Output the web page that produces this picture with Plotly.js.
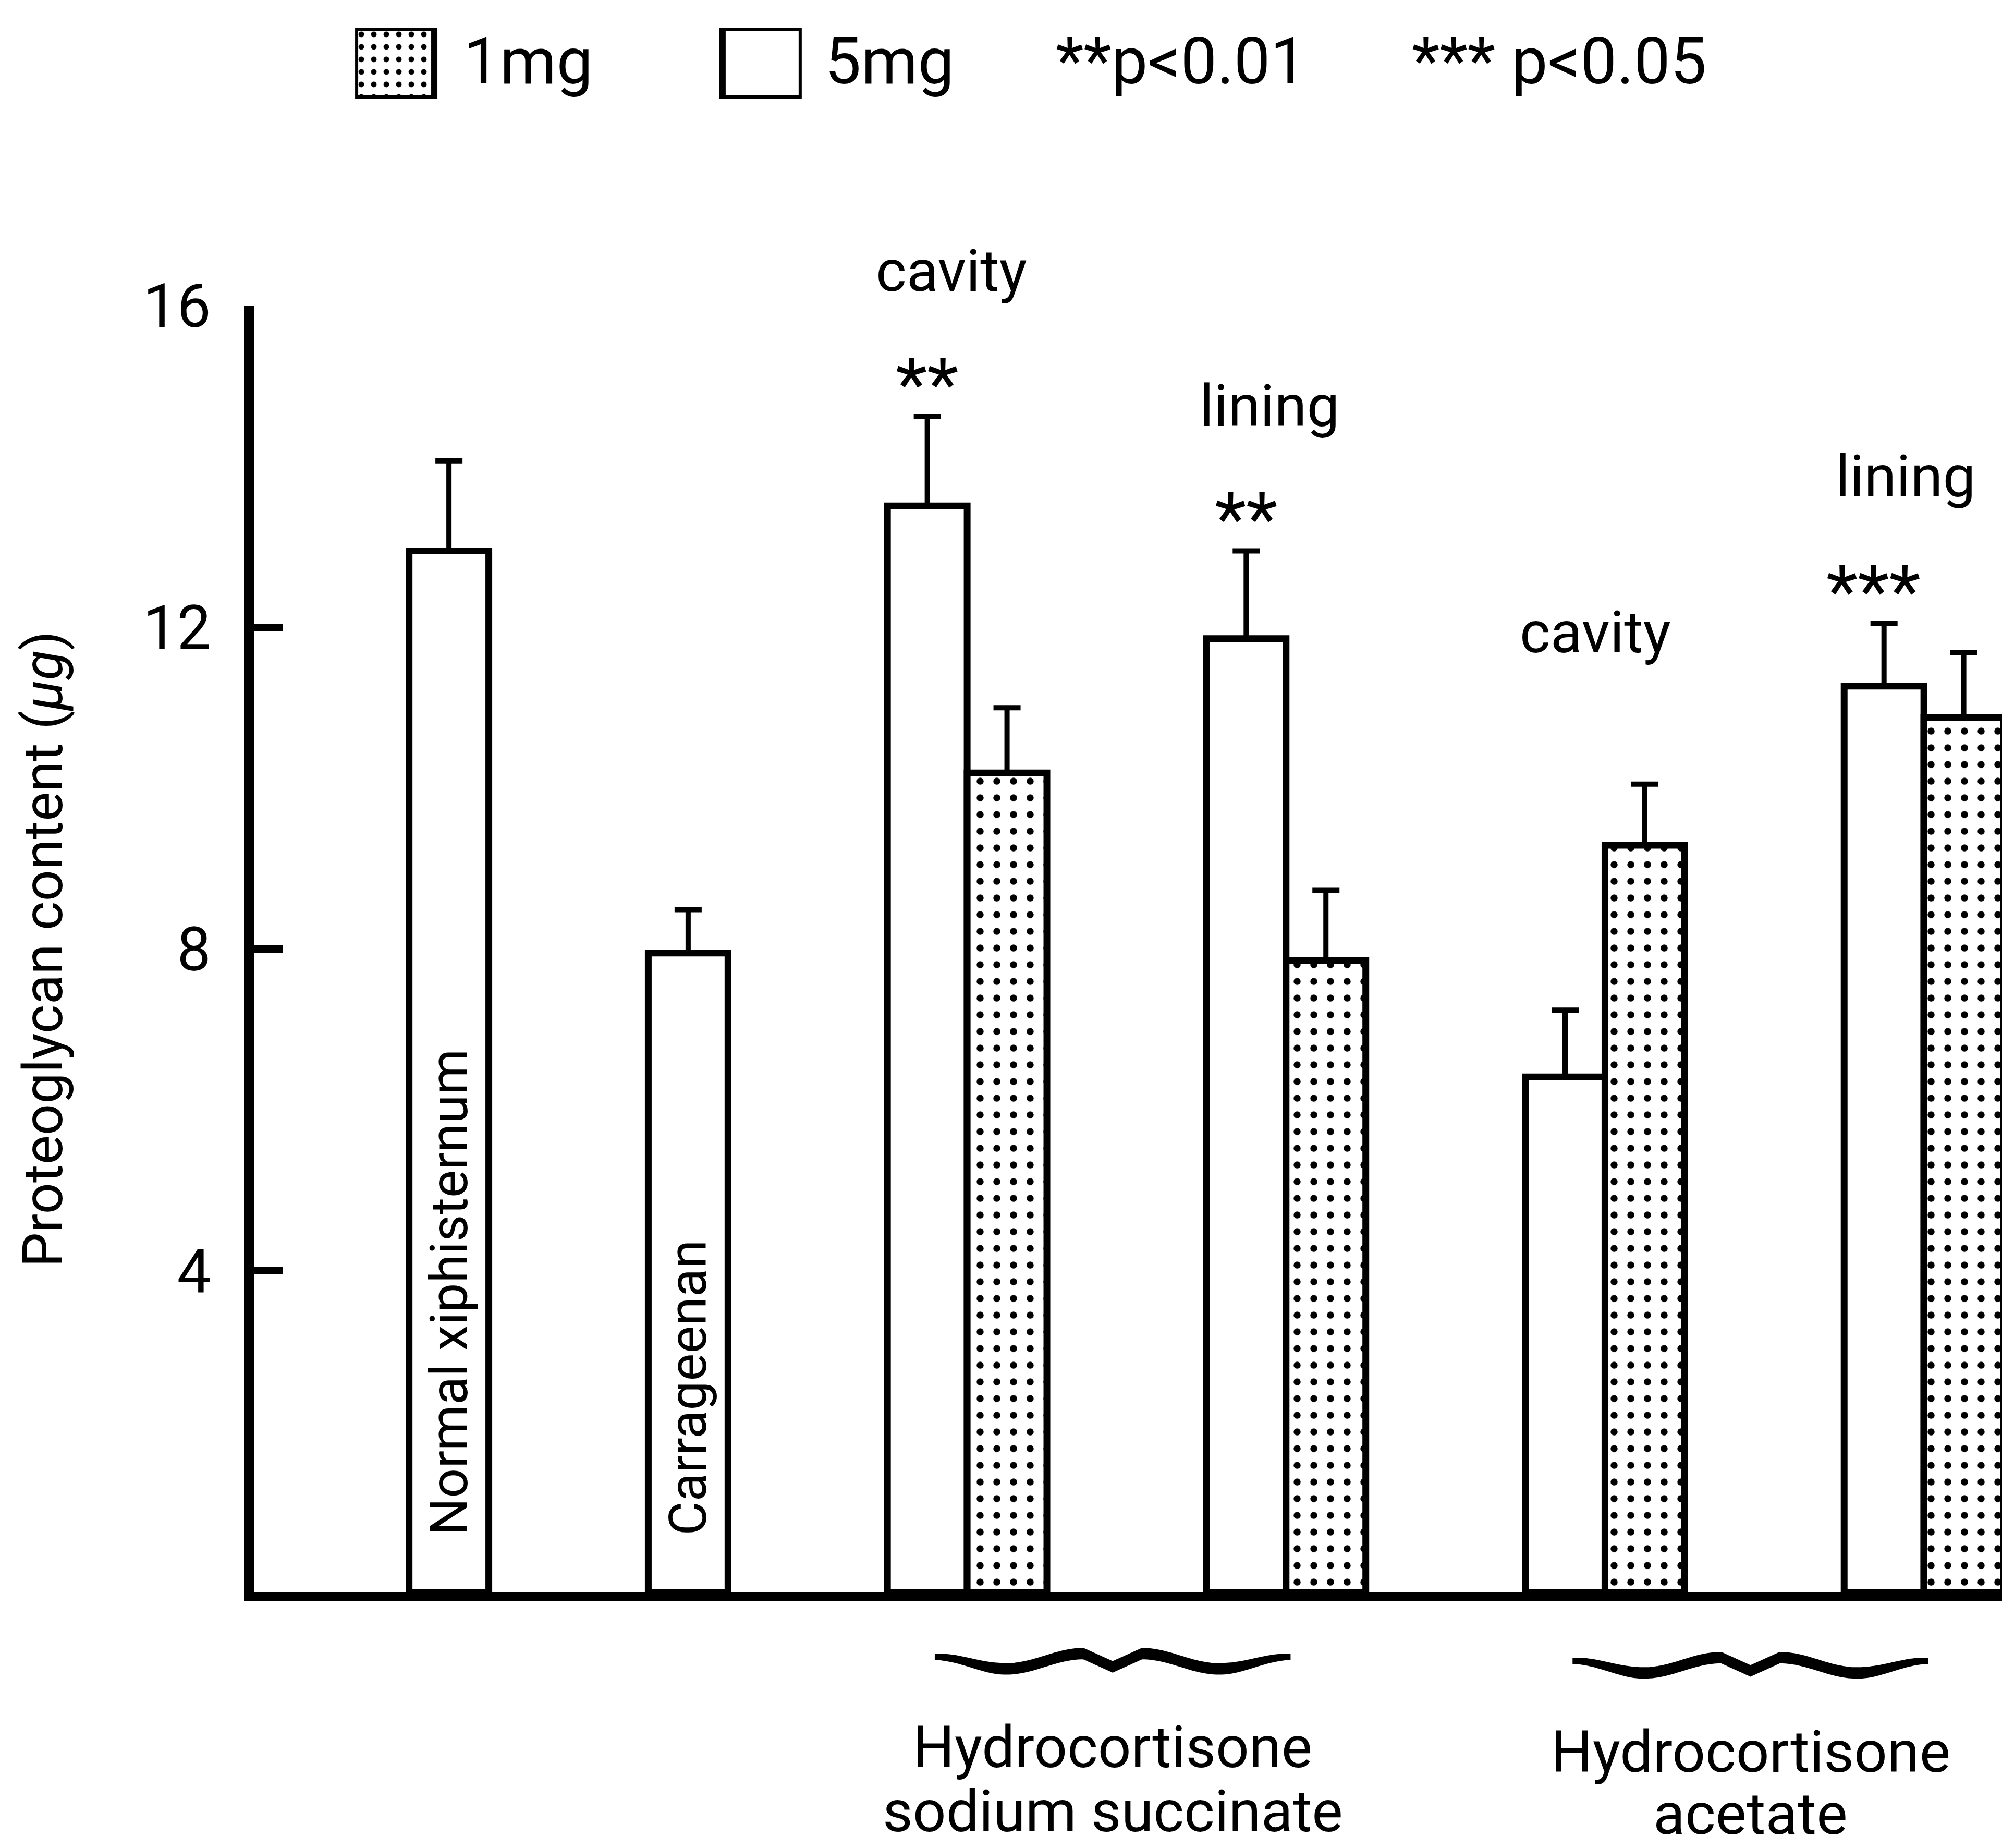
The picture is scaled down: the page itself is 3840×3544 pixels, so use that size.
<!DOCTYPE html>
<html>
<head>
<meta charset="utf-8">
<script src="https://cdn.plot.ly/plotly-3.0.1.min.js"></script>
<style>
  html, body { margin: 0; padding: 0; background: #ffffff; }
  #chart { width: 3840px; height: 3544px; }
</style>
</head>
<body>
<div id="chart"></div>
<script>
// ---- data ---------------------------------------------------------------
// bar slots along the x axis (one unit = one bar width)
const slots5mg = [2.5, 5.5, 8.5, 12.5, 16.5, 20.5];
const values5mg = [12.95, 7.95, 13.51, 11.86, 6.41, 11.27];
const errors5mg = [1.12, 0.54, 1.11, 1.09, 0.83, 0.78];
const signif5mg = ['', '', '**', '**', '', '***'];

const slots1mg = [9.5, 13.5, 17.5, 21.5];
const values1mg = [10.19, 7.86, 9.29, 10.88];
const errors1mg = [0.81, 0.87, 0.76, 0.81];

// labels written inside the two control bars
const controlLabels = ['Normal xiphisternum', 'Carrageenan'];
const controlSlots = [2.5, 5.5];

// site labels above each treated pair
const siteLabels = ['cavity', 'lining', 'cavity', 'lining'];
const siteLabelX = [8.80, 12.79, 16.88, 20.77];
const siteLabelY = [16.43, 14.75, 11.94, 13.88];

// treatment groups (first and last slot of each group)
const groupNames = [['Hydrocortisone', 'sodium succinate'], ['Hydrocortisone', 'acetate']];
const groupFirstSlot = [8.5, 16.5];
const groupLastSlot = [13.5, 21.5];

const yTicks = [4, 8, 12, 16];
const legendLabels = ['1mg', '5mg', '**p<0.01', '*** p<0.05'];

// ---- axes geometry ------------------------------------------------------
const FIG_W = 3840, FIG_H = 3544;
const MARGIN = { l: 488, r: 0, t: 30, b: 490, pad: 0 };
const PAPER_H = FIG_H - MARGIN.t - MARGIN.b;
const X_RANGE = [0.06, 21.98];
const Y_RANGE = [0, 16];
const Y_DOMAIN = [0, 0.8161];
const xToPaper = x => (x - X_RANGE[0]) / (X_RANGE[1] - X_RANGE[0]);
const yToPaper = y => Y_DOMAIN[0] + (y - Y_RANGE[0]) / (Y_RANGE[1] - Y_RANGE[0]) * (Y_DOMAIN[1] - Y_DOMAIN[0]);

// ---- styling ------------------------------------------------------------
const FONT = 'Roboto, "Liberation Sans", Arial, sans-serif';
const INK = '#000000';
const OUTLINE = 13;
const stipple = { shape: '.', fgcolor: INK, bgcolor: '#ffffff', size: 32, solidity: 0.14 };

const errStyle = (arr) => ({
  type: 'data', symmetric: false, array: arr, arrayminus: arr.map(() => 0),
  color: INK, thickness: 10, width: 26
});

const traces = [];

traces.push({
  type: 'bar', name: '5mg', x: slots5mg, y: values5mg, width: 1,
  marker: { color: '#ffffff', line: { color: INK, width: OUTLINE } },
  error_y: errStyle(errors5mg), showlegend: false, hoverinfo: 'skip'
});
traces.push({
  type: 'bar', name: '1mg', x: slots1mg, y: values1mg, width: 1,
  marker: { color: '#ffffff', pattern: stipple, line: { color: INK, width: OUTLINE } },
  error_y: errStyle(errors1mg), showlegend: false, hoverinfo: 'skip'
});

// legend swatches, drawn as bars in a small subplot of their own
traces.push({
  type: 'bar', x: [757], y: [1], width: 152, xaxis: 'x2', yaxis: 'y2',
  marker: { color: '#ffffff', pattern: { shape: '.', fgcolor: INK, bgcolor: '#ffffff', size: 24, solidity: 0.16 },
            line: { color: INK, width: 12 } },
  showlegend: false, hoverinfo: 'skip'
});
traces.push({
  type: 'bar', x: [1462], y: [1], width: 152, xaxis: 'x2', yaxis: 'y2',
  marker: { color: '#ffffff', line: { color: INK, width: 12 } },
  showlegend: false, hoverinfo: 'skip'
});

// ---- curly braces under the treatment groups ----------------------------
// half-brace profile: position along the half (0 = outer end, 1 = centre tip)
// and vertical offset of the centre line from the end level, in y-axis units
const braceU = [0, 0.40, 0.835, 1];
const braceDY = [0, -0.15, 0.04, -0.125];
const braceInsetL = 0.1, braceInsetR = 0.45;
const braceYEnd = [-0.80, -0.85];

function halfBrace(xEnd, xTip, yEnd) {
  const pts = [];
  for (let k = 0; k < braceU.length - 1; k++) {
    const steps = 28;
    for (let s = (k === 0 ? 0 : 1); s <= steps; s++) {
      const t = s / steps;
      const u = braceU[k] + (braceU[k + 1] - braceU[k]) * t;
      // cosine easing keeps each turning point smooth; the last leg dips straight to the tip
      const w = (k === braceU.length - 2) ? t : (1 - Math.cos(Math.PI * t)) / 2;
      const dy = braceDY[k] + (braceDY[k + 1] - braceDY[k]) * w;
      // stroke is thin at the outer end and swells along the arm
      const th = 10 + 10 * Math.min(u / 0.35, 1);
      pts.push({ x: xEnd + u * (xTip - xEnd), y: yEnd + dy, th: th });
    }
  }
  return pts;
}

const shapes = [];
const braceCentres = [];
groupFirstSlot.forEach((f, g) => {
  const x0 = f + braceInsetL;
  const x1 = groupLastSlot[g] - braceInsetR;
  const cx = (x0 + x1) / 2;
  braceCentres.push(cx);
  const left = halfBrace(x0, cx, braceYEnd[g]);
  const right = halfBrace(x1, cx, braceYEnd[g]).reverse();
  const centre = left.concat(right.slice(1));
  const upper = centre.map(p => [xToPaper(p.x), yToPaper(p.y) + p.th / 2 / PAPER_H]);
  const lower = centre.map(p => [xToPaper(p.x), yToPaper(p.y) - p.th / 2 / PAPER_H]).reverse();
  const outline = upper.concat(lower);
  const d = outline.map((p, i) => (i ? 'L' : 'M') + p[0].toFixed(5) + ',' + p[1].toFixed(5)).join(' ') + ' Z';
  shapes.push({
    type: 'path', xref: 'paper', yref: 'paper', path: d,
    line: { color: INK, width: 2 }, fillcolor: INK, layer: 'above'
  });
});

// ---- annotations --------------------------------------------------------
const annotations = [];
const txt = (o) => Object.assign({
  showarrow: false, xanchor: 'center', yanchor: 'middle',
  font: { family: FONT, size: 112, color: INK }
}, o);

controlLabels.forEach((t, i) => {
  annotations.push(txt({
    text: t, x: controlSlots[i], y: 0.70, xref: 'x', yref: 'y',
    textangle: -90, yanchor: 'bottom',
    font: { family: FONT, size: 100, color: INK }
  }));
});

siteLabels.forEach((t, i) => {
  annotations.push(txt({ text: t, x: siteLabelX[i], y: yToPaper(siteLabelY[i]), xref: 'x', yref: 'paper' }));
});

signif5mg.forEach((s, i) => {
  if (!s) return;
  annotations.push(txt({
    text: s, x: slots5mg[i] - (s.length - 2) * 0.13, y: yToPaper(values5mg[i] + errors5mg[i] + 0.40),
    xref: 'x', yref: 'paper',
    font: { family: FONT, size: 140, color: INK }
  }));
});

const groupLineY = [[-1.92, -2.72], [-1.98, -2.75]];
groupNames.forEach((lines, g) => {
  lines.forEach((line, k) => {
    annotations.push(txt({
      text: line, x: xToPaper(braceCentres[g]), y: yToPaper(groupLineY[g][k]),
      xref: 'paper', yref: 'paper'
    }));
  });
});

const legendTextX = [0.119, 0.3258, 0.458, 0.6617];
legendLabels.forEach((t, i) => {
  annotations.push(txt({
    text: t, x: legendTextX[i], y: 0.9709, xref: 'paper', yref: 'paper',
    xanchor: 'left', font: { family: FONT, size: 124, color: INK }
  }));
});

// ---- layout -------------------------------------------------------------
const layout = {
  width: FIG_W, height: FIG_H,
  margin: MARGIN,
  paper_bgcolor: '#ffffff', plot_bgcolor: '#ffffff',
  font: { family: FONT, color: INK, size: 112 },
  barmode: 'overlay',
  showlegend: false,
  xaxis: {
    range: X_RANGE, showgrid: false, zeroline: false,
    showticklabels: false, ticks: '', showline: true,
    linecolor: INK, linewidth: 16, fixedrange: true
  },
  yaxis: {
    domain: Y_DOMAIN, range: Y_RANGE, tickvals: yTicks,
    showgrid: false, zeroline: false, showline: true,
    linecolor: INK, linewidth: 20,
    ticks: 'inside', ticklen: 55, tickwidth: 14, tickcolor: INK,
    tickfont: { family: FONT, size: 116, color: INK },
    ticklabelstandoff: 40,
    title: { text: 'Proteoglycan content (<i>μg</i>)', standoff: 128,
             font: { family: FONT, size: 106, color: INK } },
    fixedrange: true
  },
  xaxis2: { domain: [0.0576, 0.3132], range: [681, 1538], anchor: 'y2', visible: false, fixedrange: true },
  yaxis2: { domain: [0.9474, 0.9921], range: [0, 1], anchor: 'x2', visible: false, fixedrange: true },
  shapes: shapes,
  annotations: annotations
};

Plotly.newPlot('chart', traces, layout, { staticPlot: true, displayModeBar: false });
</script>
</body>
</html>
